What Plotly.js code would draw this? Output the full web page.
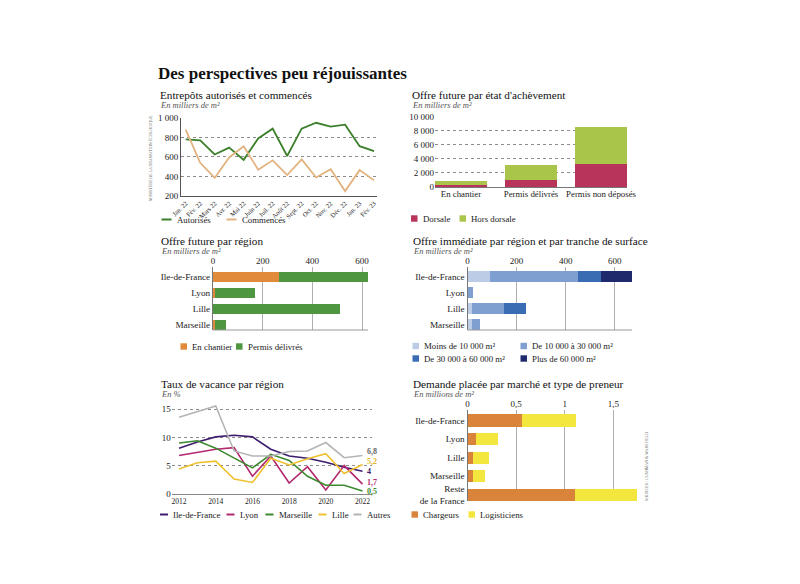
<!DOCTYPE html>
<html><head><meta charset="utf-8">
<script src="https://cdn.plot.ly/plotly-3.0.1.min.js"></script>
<style>html,body{margin:0;padding:0;background:#fff}#chart{width:800px;height:584px}</style>
</head><body><div id="chart"></div>
<script>
// ---- Panel 1: Entrepôts autorisés et commencés (milliers de m²)
const months = ["Jan. 22","Fév. 22","Mars 22","Avr. 22","Mai 22","Juin 22","Juil. 22","Août 22","Sept. 22","Oct. 22","Nov. 22","Déc. 22","Jan. 23","Fév. 23"];
const autorises = [780,770,625,695,570,790,890,610,890,950,910,930,710,660];
const commences = [880,540,385,595,710,470,565,415,575,390,475,250,465,360];
// ---- Panel 2: Offre future par état d'achèvement
const etats = ["En chantier","Permis délivrés","Permis non déposés"];
const dorsale = [300,1000,3300];
const horsDorsale = [600,2200,5300];
// ---- Panel 3: Offre future par région
const regions = ["Ile-de-France","Lyon","Lille","Marseille"];
const futurChantier = [265,8,0,10];
const futurPermis = [360,162,512,41];
// ---- Panel 4: Offre immédiate par région et tranche de surface
const tranches = ["Moins de 10 000 m²","De 10 000 à 30 000 m²","De 30 000 à 60 000 m²","Plus de 60 000 m²"];
const immMoins10 = [92,0,18,18];
const imm10a30 = [359,24,132,34];
const imm30a60 = [93,0,87,0];
const immPlus60 = [125,0,0,0];
// ---- Panel 5: Taux de vacance par région (%)
const annees = [2012,2013,2014,2015,2016,2017,2018,2019,2020,2021,2022];
const vacIdf = [8.1,9.2,10.1,10.4,10.1,7.9,6.7,6.3,5.6,4.7,4.0];
const vacLyon = [6.8,7.3,7.9,8.2,3.1,6.7,1.9,4.8,0.65,5.0,1.7];
const vacMarseille = [9.0,9.4,8.1,6.3,4.6,7.0,5.9,3.1,1.5,1.5,0.5];
const vacLille = [4.4,5.5,5.8,2.6,2.0,6.3,5.1,6.2,7.1,3.6,5.2];
const vacAutres = [13.6,14.6,15.6,7.6,6.7,6.7,7.5,7.6,9.1,6.4,6.8];
const vacNames = ["Ile-de-France","Lyon","Marseille","Lille","Autres"];
// ---- Panel 6: Demande placée (millions de m²)
const marches = ["Ile-de-France","Lyon","Lille","Marseille","Reste<br>de la France"];
const chargeurs = [0.56,0.09,0.06,0.06,1.1];
const logisticiens = [0.555,0.22,0.16,0.12,0.645];

const W = 800, H = 584;
const px = v => v / W, py = v => 1 - v / H;
const FONT = "Liberation Serif";
const C = {
  aut:'#3b7f2b', com:'#e2b27f',
  dors:'#b8345a', hors:'#a9c64a',
  chan:'#e08a3c', perm:'#4f9640',
  b1:'#bccbe6', b2:'#7f9fd0', b3:'#3a6cb4', b4:'#1e2a6c',
  idf:'#3e1c6d', lyon:'#b3286f', mars:'#3b8a2e', lille:'#efc12f', autres:'#b4b4b4',
  charg:'#d9843a', logi:'#f3e63c'
};
const vacColors = [C.idf, C.lyon, C.mars, C.lille, C.autres];
const vacSeries = [vacIdf, vacLyon, vacMarseille, vacLille, vacAutres];

const traces = [];
// Panel 1
traces.push({type:'scatter',mode:'lines',x:months,y:autorises,xaxis:'x',yaxis:'y',line:{color:C.aut,width:1.8},name:'Autorisés'});
traces.push({type:'scatter',mode:'lines',x:months,y:commences,xaxis:'x',yaxis:'y',line:{color:C.com,width:1.8},name:'Commencés'});
// Panel 2
traces.push({type:'bar',x:etats,y:dorsale,xaxis:'x2',yaxis:'y2',marker:{color:C.dors},width:0.743,name:'Dorsale'});
traces.push({type:'bar',x:etats,y:horsDorsale,xaxis:'x2',yaxis:'y2',marker:{color:C.hors},width:0.743,name:'Hors dorsale'});
// Panel 3
traces.push({type:'bar',orientation:'h',y:regions,x:futurChantier,xaxis:'x3',yaxis:'y3',marker:{color:C.chan},width:0.64,name:'En chantier'});
traces.push({type:'bar',orientation:'h',y:regions,x:futurPermis,xaxis:'x3',yaxis:'y3',marker:{color:C.perm},width:0.64,name:'Permis délivrés'});
// Panel 4
[immMoins10,imm10a30,imm30a60,immPlus60].forEach((arr,i)=>{
  traces.push({type:'bar',orientation:'h',y:regions,x:arr,xaxis:'x4',yaxis:'y4',marker:{color:[C.b1,C.b2,C.b3,C.b4][i]},width:0.66,name:tranches[i]});
});
// Panel 5
vacSeries.forEach((arr,i)=>{
  traces.push({type:'scatter',mode:'lines',x:annees,y:arr,xaxis:'x5',yaxis:'y5',line:{color:vacColors[i],width:1.6},name:vacNames[i]});
});
// Panel 6
traces.push({type:'bar',orientation:'h',y:marches,x:chargeurs,xaxis:'x6',yaxis:'y6',marker:{color:C.charg},width:0.656,name:'Chargeurs'});
traces.push({type:'bar',orientation:'h',y:marches,x:logisticiens,xaxis:'x6',yaxis:'y6',marker:{color:C.logi},width:0.656,name:'Logisticiens'});
traces.forEach(t=>{t.showlegend=false;t.hoverinfo='skip';});

const tf = (s,c) => ({family:FONT,size:s,color:c||'#222'});
const dotGrid = {showgrid:true,gridcolor:'#8c8c8c',griddash:'dot',gridwidth:1};
const solidGrid = {showgrid:true,gridcolor:'#b0b0b0',gridwidth:1};

const layout = {
  width:W,height:H,margin:{l:0,r:0,t:0,b:0},
  paper_bgcolor:'#fff',plot_bgcolor:'rgba(0,0,0,0)',
  separators:', ',barmode:'stack',showlegend:false,
  font:{family:FONT,size:9,color:'#222'},
  // Panel 1
  xaxis:{domain:[px(181),px(377)],anchor:'y',type:'category',range:[-0.325,13.2],tickangle:-45,tickfont:tf(6.5),
         showgrid:false,showline:true,linecolor:'#555',linewidth:1,ticks:'',zeroline:false,fixedrange:true},
  yaxis:{domain:[py(196),py(117.5)],anchor:'x',range:[200,1004],tickvals:[200,400,600,800,1000],tickformat:',.0f',
         ...dotGrid,showline:true,linecolor:'#555',linewidth:1,zeroline:false,ticks:'',tickfont:tf(9),fixedrange:true},
  // Panel 2
  xaxis2:{domain:[px(435),px(627)],anchor:'y2',type:'category',range:[-0.371,2.371],tickfont:tf(8.8),showgrid:false,showline:false,ticks:'',fixedrange:true},
  yaxis2:{domain:[py(187),py(116.5)],anchor:'x2',range:[0,10060],tickvals:[0,2000,4000,6000,8000,10000],tickformat:',.0f',
          ...dotGrid,zeroline:true,zerolinecolor:'#777',zerolinewidth:1,showline:false,ticks:'',tickfont:tf(9),fixedrange:true},
  // Panel 3
  xaxis3:{domain:[px(213),px(368)],anchor:'y3',side:'top',range:[0,624],tickvals:[0,200,400,600],...solidGrid,zeroline:false,
          showline:false,ticks:'',tickfont:tf(9),fixedrange:true},
  yaxis3:{domain:[py(330),py(266.7)],anchor:'x3',type:'category',range:[3.33,-0.625],showgrid:false,showline:true,linecolor:'#777',
          ticks:'',tickfont:tf(9.2),fixedrange:true},
  // Panel 4
  xaxis4:{domain:[px(467.5),px(632)],anchor:'y4',side:'top',range:[0,670],tickvals:[0,200,400,600],...solidGrid,zeroline:false,
          showline:false,ticks:'',tickfont:tf(9),fixedrange:true},
  yaxis4:{domain:[py(330),py(266.7)],anchor:'x4',type:'category',range:[3.33,-0.625],showgrid:false,showline:true,linecolor:'#777',
          ticks:'',tickfont:tf(9.2),fixedrange:true},
  // Panel 5
  xaxis5:{domain:[px(171.7),px(371.7)],anchor:'y5',range:[2011.6,2022.5],tickvals:[2012,2014,2016,2018,2020,2022],showgrid:false,
          showline:true,linecolor:'#888',linewidth:1,ticks:'',zeroline:false,tickfont:tf(7.5),fixedrange:true},
  yaxis5:{domain:[py(493.7),py(405)],anchor:'x5',range:[0,15.77],tickvals:[0,5,10,15],...dotGrid,zeroline:false,showline:false,
          ticks:'',tickfont:tf(9),fixedrange:true},
  // Panel 6
  xaxis6:{domain:[px(467.5),px(637.3)],anchor:'y6',side:'top',range:[0,1.745],tickvals:[0,0.5,1,1.5],...solidGrid,zeroline:false,
          showline:false,ticks:'',tickfont:tf(9),fixedrange:true},
  yaxis6:{domain:[py(501),py(410)],anchor:'x6',type:'category',range:[4.33,-0.56],showgrid:false,showline:true,linecolor:'#777',
          ticks:'',tickfont:tf(9.2),fixedrange:true},
  shapes:[],annotations:[]
};

// bottom lines for panels 3 and 4
['3','4'].forEach(n=>{
  layout.shapes.push({type:'line',xref:'x'+n+' domain',yref:'y'+n+' domain',x0:0,x1:1,y0:0,y1:0,line:{color:'#999',width:1}});
});

function ann(text,x,y,font,extra){
  layout.annotations.push(Object.assign({text:text,xref:'paper',yref:'paper',x:px(x),y:py(y),xanchor:'left',yanchor:'middle',
    showarrow:false,font:font},extra||{}));
}
// Titles
ann('Des perspectives peu réjouissantes',156,73.5,{family:FONT,size:17,color:'#111',weight:'bold'});
const titles = [
  ['Entrepôts autorisés et commencés','En milliers de m²',158,94.5],
  ["Offre future par état d'achèvement",'En milliers de m²',410,95],
  ['Offre future par région','En milliers de m²',159,240.5],
  ['Offre immédiate par région et par tranche de surface','En milliers de m²',410.5,240.5],
  ['Taux de vacance par région','En %',159,384],
  ['Demande placée par marché et type de preneur','En millions de m²',410.5,384]
];
titles.forEach(t=>{
  ann(t[0],t[2],t[3],{family:FONT,size:11.2,color:'#111'});
  ann('<i>'+t[1]+'</i>',t[2],t[3]+10,{family:FONT,size:8.5,color:'#555'});
});
// Sources (vertical)
ann('MINISTÈRE DE LA TRANSITION ÉCOLOGIQUE',150,158,{family:FONT,size:4,color:'#666'},{textangle:-90,xanchor:'center'});
ann('SOURCES : CUSHMAN &amp; WAKEFIELD',646,467,{family:FONT,size:4,color:'#666'},{textangle:-90,xanchor:'center'});

// Manual legends
function legLine(name,color,x,y,len){
  len = len || 8;
  layout.shapes.push({type:'line',xref:'paper',yref:'paper',x0:px(x),x1:px(x+len),y0:py(y),y1:py(y),line:{color:color,width:2}});
  ann(name,x+len+3,y,tf(8.8,'#222'));
}
function legSq(name,color,x,y){
  layout.shapes.push({type:'rect',xref:'paper',yref:'paper',x0:px(x),x1:px(x+6.5),y0:py(y+3.2),y1:py(y-3.2),fillcolor:color,line:{width:0}});
  ann(name,x+9.5,y,tf(8.8,'#222'));
}
legLine('Autorisés',C.aut,161.5,219.5,10);
legLine('Commencés',C.com,226.5,219.5,10);
legSq('Dorsale',C.dors,411,218.5);
legSq('Hors dorsale',C.hors,459.5,218.5);
legSq('En chantier',C.chan,180.5,346.5);
legSq('Permis délivrés',C.perm,236,346.5);
legSq(tranches[0],C.b1,412.5,346);
legSq(tranches[1],C.b2,520.5,346);
legSq(tranches[2],C.b3,412.5,358.5);
legSq(tranches[3],C.b4,520.5,358.5);
const legX5 = [160,226.5,265.5,318.5,353.5];
vacNames.forEach((n,i)=>legLine(n,vacColors[i],legX5[i],514.5,8));
legSq('Chargeurs',C.charg,411.5,514.5);
legSq('Logisticiens',C.logi,468.5,514.5);

// End-of-line labels panel 5
const endShift = [0,2,-1,3,3.5];
const endOrder = [4,3,0,1,2];
endOrder.forEach(i=>{
  const arr = vacSeries[i];
  const v = arr[arr.length-1];
  layout.annotations.push({text:'<b>'+String(v).replace('.',',')+'</b>',xref:'x5',yref:'y5',x:annees[annees.length-1],y:v,
    xanchor:'left',yanchor:'middle',xshift:2,yshift:endShift[i],showarrow:false,
    font:{family:FONT,size:8,color:i===4?'#666':(i===3?'#e3b424':vacColors[i])}});
});

Plotly.newPlot('chart',traces,layout,{staticPlot:true,displayModeBar:false});
</script></body></html>
